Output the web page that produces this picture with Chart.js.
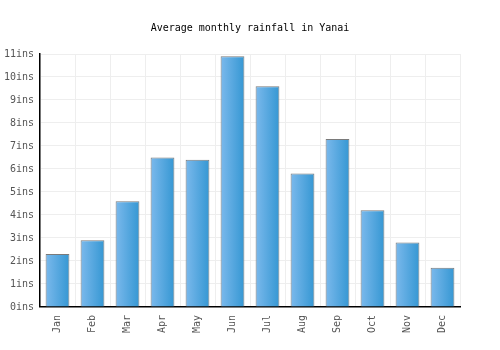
<!DOCTYPE html>
<html>
<head>
<meta charset="utf-8">
<script src="https://cdn.jsdelivr.net/npm/chart.js@4"></script>
<style>
  body { margin: 0; background: #fff; }
  #wrap { width: 500px; height: 350px; }
</style>
</head>
<body>
<div id="wrap"><canvas id="rain"></canvas></div>
<script>
var months = ["Jan", "Feb", "Mar", "Apr", "May", "Jun", "Jul", "Aug", "Sep", "Oct", "Nov", "Dec"];
var rainfall = [2.3, 2.9, 4.6, 6.5, 6.4, 10.9, 9.6, 5.8, 7.3, 4.2, 2.8, 1.7];
var yTicks = [0, 1, 2, 3, 4, 5, 6, 7, 8, 9, 10, 11];

var barPct = 0.68;

// each bar gets its own left-to-right gradient
function barFill(context) {
  var chart = context.chart;
  var xs = chart.scales.x;
  if (!chart.chartArea || !xs) return "#4fa6e0";
  var cx = xs.getPixelForValue(context.dataIndex);
  var w = xs.width / months.length * barPct;
  var g = chart.ctx.createLinearGradient(cx - w / 2, 0, cx + w / 2, 0);
  g.addColorStop(0, "#7bb9ec");
  g.addColorStop(1, "#3597d3");
  return g;
}

Chart.defaults.font.family = "'DejaVu Sans Mono', monospace";
Chart.defaults.font.size = 10;

new Chart(document.getElementById("rain"), {
  type: "bar",
  data: {
    labels: months,
    datasets: [{
      label: "Rainfall",
      data: rainfall,
      backgroundColor: barFill,
      borderColor: "#7a7a7a",
      borderWidth: 1,
      borderSkipped: "bottom",
      barPercentage: barPct,
      categoryPercentage: 1
    }]
  },
  options: {
    responsive: true,
    maintainAspectRatio: false,
    animation: false,
    layout: { padding: { left: 0, right: 0, top: 8, bottom: 9 } },
    plugins: {
      legend: { display: false },
      tooltip: { enabled: false },
      title: {
        display: true,
        text: "Average monthly rainfall in Yanai",
        color: "#000",
        font: { size: 10, weight: "normal" },
        padding: { top: 14, bottom: 20 }
      }
    },
    scales: {
      x: {
        grid: { color: "#eeeeee", offset: true, drawTicks: false },
        border: { color: "#000", width: 1.5 },
        ticks: { color: "#555", maxRotation: 90, minRotation: 90, padding: 8 }
      },
      y: {
        min: 0,
        max: 11,
        afterBuildTicks: function (axis) {
          axis.ticks = yTicks.map(function (v) { return { value: v }; });
        },
        afterFit: function (axis) { axis.width = 40; },
        grid: { color: "#eeeeee", drawTicks: false },
        border: { color: "#000", width: 1.5 },
        ticks: {
          color: "#555",
          padding: 6,
          callback: function (v) { return v + "ins"; }
        }
      },
      // empty axis on the right, only to keep the plot away from the edge
      yRight: {
        position: "right",
        min: 0,
        max: 11,
        afterFit: function (axis) { axis.width = 40; },
        grid: { display: false },
        border: { display: false },
        ticks: { display: false }
      }
    }
  }
});
</script>
</body>
</html>
